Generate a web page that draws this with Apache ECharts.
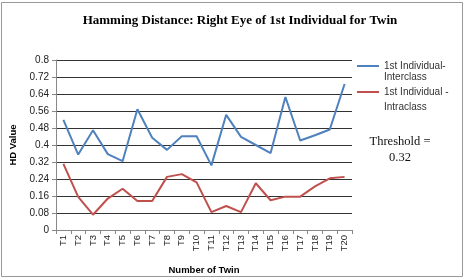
<!DOCTYPE html>
<html><head><meta charset="utf-8">
<script src="https://cdn.jsdelivr.net/npm/echarts@6/dist/echarts.min.js"></script>
<style>html,body{margin:0;padding:0;background:#fff}#c{width:470px;height:280px}</style>
</head><body><div id="c"></div>
<script>
var categories = ['T1','T2','T3','T4','T5','T6','T7','T8','T9','T10','T11','T12','T13','T14','T15','T16','T17','T18','T19','T20'];
var interclass = [0.518,0.355,0.469,0.357,0.324,0.568,0.434,0.377,0.441,0.441,0.304,0.542,0.438,0.40,0.362,0.626,0.421,0.446,0.473,0.687];
var intraclass = [0.311,0.156,0.072,0.148,0.194,0.136,0.136,0.250,0.263,0.224,0.084,0.113,0.084,0.22,0.14,0.157,0.157,0.205,0.243,0.25];
var yTicks = [0,0.08,0.16,0.24,0.32,0.4,0.48,0.56,0.64,0.72,0.8];
var chart = echarts.init(document.getElementById('c'), null, {renderer:'canvas'});
var sans = 'Liberation Sans';
chart.setOption({
  animation:false,
  backgroundColor:'#fff',
  title:{text:'Hamming Distance: Right Eye of 1st Individual for Twin', left:235, textAlign:'center', top:9,
    textStyle:{fontFamily:'Liberation Serif', fontWeight:'bold', fontSize:13, color:'#000'}},
  grid:{left:56, right:118, top:60, bottom:46},
  legend:{orient:'vertical', left:352, top:56, itemWidth:22, itemHeight:2, itemGap:16, icon:'rect',
    textStyle:{fontFamily:sans, fontSize:10, color:'#333'},
    data:['1st Individual-','1st Individual -']},
  xAxis:{type:'category', data:categories, boundaryGap:true,
    name:'Number of Twin', nameLocation:'middle', nameGap:35,
    nameTextStyle:{fontFamily:sans, fontWeight:'bold', fontSize:9.5, color:'#000'},
    axisLine:{lineStyle:{color:'#888'}}, axisTick:{show:true, length:4, lineStyle:{color:'#888'}},
    axisLabel:{rotate:90, fontFamily:sans, fontSize:9.5, color:'#222', margin:5}},
  yAxis:{type:'value', min:0, max:0.8, interval:0.08,
    name:'HD Value', nameLocation:'middle', nameGap:35, nameRotate:90,
    nameTextStyle:{fontFamily:sans, fontWeight:'bold', fontSize:9.5, color:'#000'},
    axisLine:{show:true, lineStyle:{color:'#888'}}, axisTick:{show:true, length:4, lineStyle:{color:'#888'}},
    axisLabel:{fontFamily:sans, fontSize:10, color:'#222', margin:7,
      formatter:function(v){var r=yTicks.reduce(function(a,b){return Math.abs(b-v)<Math.abs(a-v)?b:a;});return String(+r.toFixed(2));}},
    splitLine:{lineStyle:{color:'#333', width:1}}},
  series:[
    {name:'1st Individual-', type:'line', data:interclass, symbol:'none', lineStyle:{color:'#4F81BD', width:2}, itemStyle:{color:'#4F81BD'}},
    {name:'1st Individual -', type:'line', data:intraclass, symbol:'none', lineStyle:{color:'#C0504D', width:2}, itemStyle:{color:'#C0504D'}}
  ],
  graphic:[
    {type:'rect', shape:{x:1.5, y:2.5, width:461, height:274}, style:{fill:null, stroke:'#999', lineWidth:1}, silent:true},
    {type:'text', style:{text:'Interclass', x:384, y:72, font:'10px "Liberation Sans"', fill:'#333'}},
    {type:'text', style:{text:'Intraclass', x:384, y:102, font:'10px "Liberation Sans"', fill:'#333'}},
    {type:'text', style:{text:'Threshold =\n0.32', x:400, y:134, textAlign:'center', font:'12.5px "Liberation Serif"', fill:'#111', lineHeight:16}}
  ]
});
</script></body></html>
